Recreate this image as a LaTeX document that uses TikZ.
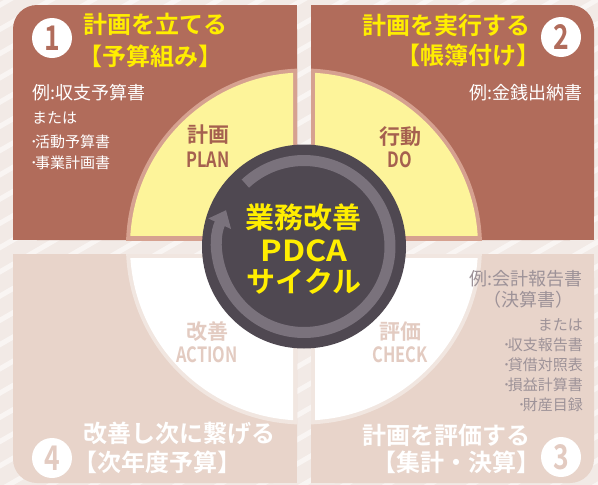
\documentclass[tikz,border=0pt]{standalone}
\usepackage{fontspec}
\usepackage{graphicx}
\setmainfont{Noto Sans CJK JP}[BoldFont={Noto Sans CJK JP Bold}]
\usetikzlibrary{arrows.meta}
\definecolor{bgc}{HTML}{F2EAE6}
\definecolor{topc}{HTML}{B16C5B}
\definecolor{tanc}{HTML}{D6A190}
\definecolor{yelc}{HTML}{FDF49A}
\definecolor{botc}{HTML}{E8D4CA}
\definecolor{botb}{HTML}{F1E6E0}
\definecolor{darkc}{HTML}{4F4851}
\definecolor{ringc}{HTML}{7A727C}
\definecolor{titley}{HTML}{FFEE00}
\definecolor{brownl}{HTML}{A5604F}
\definecolor{pinkl}{HTML}{E3CBC1}
\definecolor{grayt}{HTML}{9D9298}
\tikzset{
  ttl/.style={font=\bfseries\fontsize{24}{28}\selectfont, inner sep=0pt},
  ex/.style={font=\fontsize{18}{22}\selectfont, inner sep=0pt},
  sm/.style={font=\fontsize{15}{18}\selectfont, inner sep=0pt},
  lbl/.style={font=\bfseries\fontsize{21}{24}\selectfont, inner sep=0pt},
  numdisc/.style={circle, fill=white, minimum size=40pt, inner sep=0pt, font=\bfseries\fontsize{34}{34}\selectfont},
  ctr/.style={font=\bfseries\fontsize{29}{32}\selectfont, text=titley, inner sep=0pt},
}
\newcommand{\cnd}[1]{\scalebox{0.78}[1]{#1}}
\newcommand{\bul}{･\kern-2.5pt}
\begin{document}
\begin{tikzpicture}[x=1pt,y=-1pt]
\useasboundingbox (0,0) rectangle (598,485);
\fill[bgc] (0,0) rectangle (598,485);
\begin{scope}
  \clip (0,0) rectangle (598,485);
  \foreach \k in {-25,...,16} \draw[white, opacity=0.55, line width=5] (\k*42,490) -- ++(-30:1150);
\end{scope}
\coordinate (C) at (304,246.5);
% panels
\fill[topc, rounded corners=24] (13,5) rectangle (297,240);
\fill[topc] (100,5) rectangle (297,240);
\fill[topc] (13,80) rectangle (297,240);
\fill[topc, rounded corners=24] (311,5) rectangle (594,240);
\fill[topc] (311,5) rectangle (520,240);
\fill[topc] (311,80) rectangle (594,240);
\fill[botc, rounded corners=24] (13,254) rectangle (297,483);
\fill[botc] (100,254) rectangle (297,483);
\fill[botc] (13,254) rectangle (297,400);
\fill[botc, rounded corners=24] (311,254) rectangle (594,483);
\fill[botc] (311,254) rectangle (520,483);
\fill[botc] (311,254) rectangle (594,400);
% quarter discs
\begin{scope}\clip (13,5) rectangle (297,240); \fill[tanc] (C) circle[radius=178]; \end{scope}
\begin{scope}\clip (13,5) rectangle (293,235); \fill[yelc] (C) circle[radius=174]; \end{scope}
\begin{scope}\clip (311,5) rectangle (594,240); \fill[tanc] (C) circle[radius=178]; \end{scope}
\begin{scope}\clip (315,5) rectangle (594,235); \fill[yelc] (C) circle[radius=174]; \end{scope}
\begin{scope}\clip (13,254) rectangle (297,483); \fill[botb] (C) circle[radius=178]; \end{scope}
\begin{scope}\clip (13,258) rectangle (293,483); \fill[white] (C) circle[radius=174]; \end{scope}
\begin{scope}\clip (311,254) rectangle (594,483); \fill[botb] (C) circle[radius=178]; \end{scope}
\begin{scope}\clip (315,258) rectangle (594,483); \fill[white] (C) circle[radius=174]; \end{scope}
% center circle
\fill[darkc] (C) circle[radius=102];
\draw[ringc, line width=11, -{Triangle[width=24pt,length=15pt]}]
  ([shift={(C)}]-133:86) arc[start angle=-133, end angle=205, radius=86];
\node[ctr] (c1) at (303,218) {業務改善};
\node[ctr] (c2) at (304,251) {\scalebox{1.12}[1]{PDCA}};
\node[ctr] (c3) at (304,281) {サイクル};
% quadrant labels
\node[lbl, text=brownl] (l1a) at (208,135) {計画};
\node[lbl, text=brownl] (l1b) at (208,160) {\cnd{PLAN}};
\node[lbl, text=brownl] (l2a) at (400,137) {行動};
\node[lbl, text=brownl] (l2b) at (400,160) {\cnd{DO}};
\node[lbl, text=pinkl] (l4a) at (207,332) {改善};
\node[lbl, text=pinkl] (l4b) at (207,355) {\cnd{ACTION}};
\node[lbl, text=pinkl] (l3a) at (400,332) {評価};
\node[lbl, text=pinkl] (l3b) at (400,355) {\cnd{CHECK}};
% panel 1
\node[numdisc, text=topc] (n1) at (52,38) {\cnd{1}};
\node[ttl, text=titley, anchor=west] (t1a) at (83,24) {計画を立てる};
\node[ttl, text=titley, anchor=west] (t1b) at (78,56) {【予算組み】};
\node[ex, text=white, anchor=west] (e1) at (32,93) {例:収支予算書};
\node[sm, text=white, anchor=west] (e1a) at (32,118) {または};
\node[sm, text=white, anchor=west] (e1b) at (30,142) {\bul 活動予算書};
\node[sm, text=white, anchor=west] (e1c) at (30,163) {\bul 事業計画書};
% panel 2
\node[numdisc, text=topc] (n2) at (561,37) {\cnd{2}};
\node[ttl, text=titley, anchor=east] (t2a) at (531,25) {計画を実行する};
\node[ttl, text=titley, anchor=east] (t2b) at (541,55) {【帳簿付け】};
\node[ex, text=white, anchor=east] (e2) at (583,93) {例:金銭出納書};
% panel 3
\node[numdisc, text=pinkl] (n3) at (561,457) {\cnd{3}};
\node[ttl, text=white, anchor=east] (t3a) at (531,435) {計画を評価する};
\node[ttl, text=white, anchor=east] (t3b) at (541,462) {【集計・決算】};
\node[ex, text=grayt, anchor=east] (e3) at (583,279) {例:会計報告書};
\node[ex, text=grayt] (e3p) at (528,300) {（決算書）};
\node[sm, text=grayt, anchor=east] (e3a) at (583,325) {または};
\node[sm, text=grayt, anchor=east] (e3b) at (583,345) {\bul 収支報告書};
\node[sm, text=grayt, anchor=east] (e3c) at (583,365) {\bul 貸借対照表};
\node[sm, text=grayt, anchor=east] (e3d) at (583,385) {\bul 損益計算書};
\node[sm, text=grayt, anchor=east] (e3e) at (583,405) {\bul 財産目録};
% panel 4
\node[numdisc, text=pinkl] (n4) at (52,458) {\cnd{4}};
\node[ttl, text=white, anchor=west] (t4a) at (83,433) {改善し次に繋げる};
\node[ttl, text=white, anchor=west] (t4b) at (73,462) {【次年度予算】};
\end{tikzpicture}
\end{document}
